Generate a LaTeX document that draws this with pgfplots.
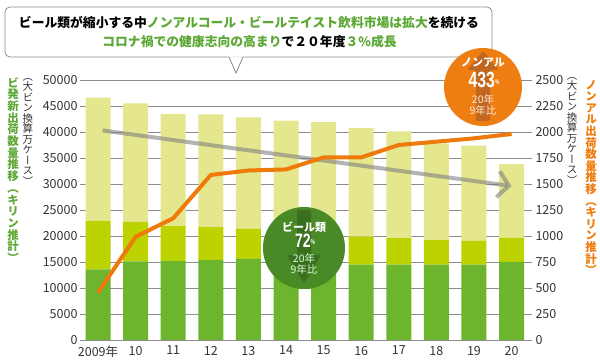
\documentclass[border=0pt]{standalone}
\usepackage{fontspec}
\usepackage{graphicx}
\usepackage{pgfplots}
\pgfplotsset{compat=1.18}
\usetikzlibrary{arrows.meta}
\setmainfont{Noto Sans CJK JP}
\newfontfamily\vfont[RawFeature=+vert]{Noto Sans CJK JP}
\newfontfamily\numfont{Liberation Sans}
\definecolor{dkg}{HTML}{6CB52D}
\definecolor{lim}{HTML}{BDD300}
\definecolor{lgt}{HTML}{E4E78E}
\definecolor{org}{HTML}{EE7A0B}
\definecolor{ttlg}{HTML}{5CA834}
\definecolor{circg}{HTML}{4A8A26}
\definecolor{circga}{HTML}{3A6F1E}
\definecolor{circo}{HTML}{EE7D12}
\definecolor{circoa}{HTML}{C2671F}
\definecolor{txt}{HTML}{333333}
\definecolor{gridc}{HTML}{8C8C8C}
\begin{document}
\begin{tikzpicture}[x=1pt,y=1pt]
\path[use as bounding box] (0,0) rectangle (600,361);
\begin{axis}[
  at={(80pt,21pt)}, anchor=south west, scale only axis,
  width=447pt, height=260pt,
  xmin=-0.479, xmax=11.41, ymin=0, ymax=50000,
  ybar stacked, bar width=25pt,
  axis line style={draw=none}, major tick length=0pt,
  ymajorgrids, grid style={draw=gridc, line width=0.7pt},
  ytick={0,5000,...,50000},
  xtick={0,...,11},
  xticklabels={2009年,10,11,12,13,14,15,16,17,18,19,20},
  tick label style={font=\fontsize{12.5}{14}\selectfont, text=txt},
  yticklabel style={xshift=1pt},
  xticklabel style={yshift=-2.5pt},
  /pgf/number format/assume math mode=true,
  /pgf/number format/1000 sep={},
  scaled y ticks=false,
  clip=false,
]
\addplot[fill=dkg, draw=none] coordinates {(0,13600) (1,15100) (2,15200) (3,15400) (4,15600) (5,15200) (6,14800) (7,14500) (8,14500) (9,14500) (10,14500) (11,15000)};
\addplot[fill=lim, draw=none] coordinates {(0,9300) (1,7600) (2,6700) (3,6300) (4,5800) (5,5600) (6,5500) (7,5400) (8,5100) (9,4700) (10,4600) (11,4700)};
\addplot[fill=lgt, draw=none] coordinates {(0,23700) (1,22800) (2,21600) (3,21700) (4,21400) (5,21400) (6,21600) (7,20900) (8,20500) (9,18600) (10,18300) (11,14100)};
\end{axis}
\begin{axis}[
  at={(80pt,21pt)}, anchor=south west, scale only axis,
  width=447pt, height=260pt,
  xmin=-0.479, xmax=11.41, ymin=0, ymax=2500,
  axis x line=none, axis y line*=right,
  y axis line style={draw=none},
  ytick={0,250,...,2500},
  major tick length=5pt, tick align=outside,
  ytick style={draw=gridc, line width=0.7pt},
  yticklabel style={font=\fontsize{12.5}{14}\selectfont, text=txt},
  /pgf/number format/assume math mode=true,
  /pgf/number format/1000 sep={},
  scaled y ticks=false,
  clip=false,
]
\addplot[draw=gray, opacity=0.6, line width=4pt, -{Straight Barb[length=11pt, width=26pt]}] coordinates {(0.12,2015) (11.0,1480)};
\addplot[draw=org, line width=4pt, line join=round] coordinates {(0,455) (1,993) (2,1170) (3,1587) (4,1630) (5,1640) (6,1756) (7,1756) (8,1875) (9,1907) (10,1939) (11,1981)};
\end{axis}
% title callout
\draw[gridc, line width=0.8pt, fill=white, rounded corners=5pt] (5,304) rectangle (492,354);
\fill[white] (229,304.6) -- (236,288) -- (243,304.6) -- cycle;
\draw[gridc, line width=0.8pt] (229,304) -- (236,288) -- (243,304);
\node[font=\bfseries\fontsize{12.8}{14}\selectfont, text=black, inner sep=0] at (249,338) {ビール類が縮小する中\textcolor{ttlg}{ノンアルコール・ビールテイスト飲料市場は拡大}を続ける};
\node[font=\bfseries\fontsize{12.8}{14}\selectfont, text=black, inner sep=0] at (249.5,319) {\textcolor{ttlg}{コロナ禍での健康志向の高まり}で２０年度\textcolor{ttlg}{３\%成長}};
% vertical axis titles
\node[anchor=north, align=center, text=ttlg, font=\vfont\bfseries\fontsize{11.5}{11.7}\selectfont, inner sep=0] at (13,284) {ビ\\発\\新\\出\\荷\\数\\量\\推\\移\\（\\キ\\リ\\ン\\推\\計\\）};
\node[anchor=north, align=center, text=txt, font=\vfont\fontsize{10.5}{10.5}\selectfont, inner sep=0] at (28,283) {（\\大\\ビ\\ン\\換\\算\\万\\ケ\\ー\\ス\\）};
\node[anchor=north, align=center, text=txt, font=\vfont\fontsize{10.5}{10.5}\selectfont, inner sep=0] at (572,284) {（\\大\\ビ\\ン\\換\\算\\万\\ケ\\ー\\ス\\）};
\node[anchor=north, align=center, text=org, font=\vfont\bfseries\fontsize{11.5}{11.6}\selectfont, inner sep=0] at (591,281) {ノ\\ン\\ア\\ル\\出\\荷\\数\\量\\推\\移\\（\\キ\\リ\\ン\\推\\計\\）};
% orange badge
\fill[circo] (483,274) circle (39);
\fill[circoa, rounded corners=2pt] (483,310) -- (499,291) -- (490,291) -- (490,240) -- (476,240) -- (476,291) -- (467,291) -- cycle;
\node[text=white, font=\bfseries\fontsize{11}{12}\selectfont, inner sep=0] at (483,298) {ノンアル};
\node[text=white, inner sep=0] at (484,281) {\scalebox{0.72}[1]{\numfont\bfseries\fontsize{22}{22}\selectfont 433}\raisebox{3pt}{\scalebox{0.7}[1]{\numfont\bfseries\fontsize{7}{7}\selectfont\%}}};
\node[text=white!85!orange, font=\fontsize{10.5}{11}\selectfont, inner sep=0] at (483,262) {20年};
\node[text=white!85!orange, font=\fontsize{10.5}{11}\selectfont, inner sep=0] at (483,250.5) {9年比};
% green badge
\fill[circg] (304,113) circle (41);
\fill[circga, rounded corners=2pt] (304,78) -- (321,106) -- (311,106) -- (311,151) -- (297,151) -- (297,106) -- (287,106) -- cycle;
\node[text=white, font=\bfseries\fontsize{11}{12}\selectfont, inner sep=0] at (304,134) {ビール類};
\node[text=white, inner sep=0] at (305,120) {\scalebox{0.72}[1]{\numfont\bfseries\fontsize{19.5}{20}\selectfont 72}\raisebox{3pt}{\scalebox{0.7}[1]{\numfont\bfseries\fontsize{7}{7}\selectfont\%}}};
\node[text=white!85!green, font=\fontsize{10.5}{11}\selectfont, inner sep=0] at (304,103) {20年};
\node[text=white!85!green, font=\fontsize{10.5}{11}\selectfont, inner sep=0] at (304,92) {9年比};
\end{tikzpicture}
\end{document}
